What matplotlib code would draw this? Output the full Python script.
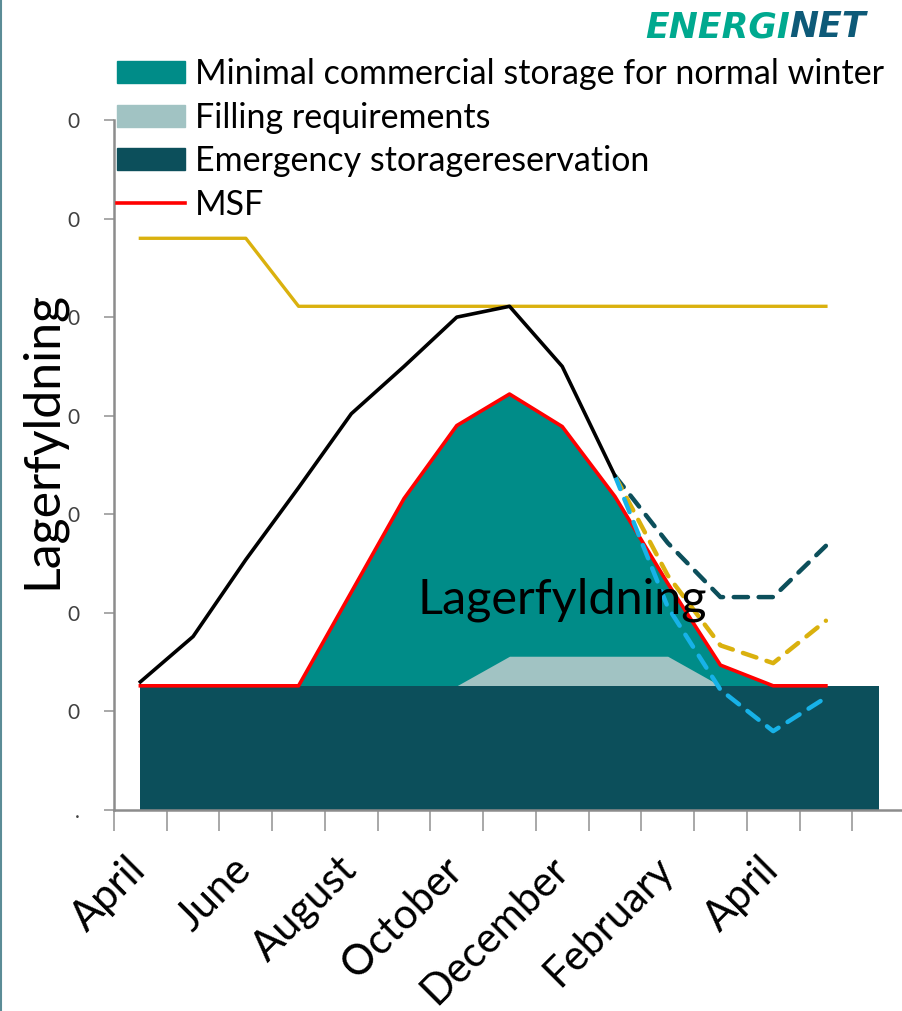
import numpy as np
import matplotlib
matplotlib.use("Agg")
import matplotlib.pyplot as plt
import matplotlib.transforms as mtransforms
from matplotlib.patches import Patch
from matplotlib.lines import Line2D

# month categories (April year 1 -> May year 2, plus one extra slot for the reserve area)
months = ["April", "May", "June", "July", "August", "September", "October",
          "November", "December", "January", "February", "March", "April", "May", ""]
month_labels = ["April", "June", "August", "October", "December", "February", "April"]
y_tick_labels = [".", "0", "0", "0", "0", "0", "0", "0"]

# values (y axis in arbitrary units, 10 per gridstep)
emergency = [12.6] * 15
filling = [0, 0, 0, 0, 0, 0, 0, 3.0, 3.0, 3.0, 3.0, 0, 0, 0, 0]
msf = [12.6, 12.6, 12.6, 12.6, 22.1, 31.6, 39.0, 42.2, 38.9, 31.8, 23.0, 14.7, 12.6, 12.6]
actual = [13.0, 17.6, 25.4, 32.7, 40.2, 45.0, 50.0, 51.1, 45.0, 33.9]
capacity = [58.0, 58.0, 58.0, 51.1, 51.1, 51.1, 51.1, 51.1, 51.1, 51.1, 51.1, 51.1, 51.1, 51.1]
# scenario forecasts from January
scen_high = [33.9, 27.1, 21.6, 21.6, 26.8]
scen_mid = [33.9, 23.8, 16.7, 14.9, 19.2]
scen_low = [33.9, 20.6, 12.2, 8.0, 11.4]

c_teal = "#008C88"
c_light = "#A1C3C3"
c_dark = "#0C4F5B"
c_gold = "#DAB10E"
c_blue = "#17B2E8"

plt.rcParams['font.family'] = ['Lato', 'DejaVu Sans']

fig = plt.figure(figsize=(9.03, 10.11), dpi=100)
ax = fig.add_axes([114 / 903, 1 - 810 / 1011, 791 / 903, 690 / 1011])

x_all = np.arange(len(emergency))
x_msf = np.arange(len(msf))
base = np.array(emergency[:len(msf)])

# areas
ax.fill_between(x_all, 0, emergency, color=c_dark, lw=0, zorder=2)
ax.fill_between(x_msf, base, msf, color=c_teal, lw=0, zorder=1)
ax.fill_between(x_all, emergency, np.array(emergency) + np.array(filling),
                color=c_light, lw=0, zorder=1.5)

# lines
ax.plot(x_msf, capacity, color=c_gold, lw=2.4, zorder=3)
ax.plot(x_msf, msf, color="red", lw=2.6, zorder=4)
ax.plot(np.arange(len(actual)), actual, color="black", lw=2.6, zorder=5)
xs = np.arange(9, 14)
dash = dict(lw=3.2, ls=(0, (3.2, 2.4)), dash_capstyle="round", zorder=4)
ax.plot(xs, scen_high, color=c_dark, **dash)
ax.plot(xs, scen_mid, color=c_gold, **dash)
ax.plot(xs, scen_low, color=c_blue, **dash)

ax.text(8.0, 21.3, "Lagerfyldning", fontsize=35, ha="center", va="center", zorder=6)

# axes
ax.set_xlim(-0.5, 14.5)
ax.set_ylim(0, 70)
ax.set_yticks(np.arange(0, 71, 10))
ax.set_yticklabels(y_tick_labels, fontsize=15, color="#404040")
ax.set_xticks(np.arange(-0.5, 14.5, 1))
ax.set_xticklabels([])
ax.tick_params(axis="x", length=15, width=1.2, color="#999999")
ax.tick_params(axis="y", length=7, width=1.2, color="#999999", pad=18)
for s in ["top", "right"]:
    ax.spines[s].set_visible(False)
for s in ["left", "bottom"]:
    ax.spines[s].set_color("#8C8C8C")
    ax.spines[s].set_linewidth(1.8)

# rotated month labels, every second month
lab_trans = ax.get_xaxis_transform() + mtransforms.ScaledTranslation(8 / 100, -62 / 100, fig.dpi_scale_trans)
for i, lab in enumerate(month_labels):
    ax.text(2 * i, 0, lab, transform=lab_trans, rotation=45, ha="right", va="baseline",
            rotation_mode="anchor", fontsize=30, clip_on=False)

fig.text(42 / 903, 1 - 440 / 1011, "Lagerfyldning", fontsize=36, rotation=90,
         ha="center", va="center")

# legend
handles = [Patch(color=c_teal), Patch(color=c_light), Patch(color=c_dark),
           Line2D([], [], color="red", lw=2.6)]
names = ["Minimal commercial storage for normal winter", "Filling requirements",
         "Emergency storagereservation", "MSF"]
fig.legend(handles, names, loc="upper left", bbox_to_anchor=(117 / 903, 1 - 58 / 1011),
           frameon=False, fontsize=24.5, handlelength=2.0, handleheight=0.62,
           handletextpad=0.3, labelspacing=0.34, borderaxespad=0, borderpad=0)

# logo
fig.canvas.draw()
t1 = fig.text(645 / 903, 1 - 27 / 1011, "ENERGI", color="#00A98F", fontsize=25,
              fontweight="bold", style="italic", va="center", ha="left",
              family="DejaVu Sans")
bb = t1.get_window_extent(fig.canvas.get_renderer())
fig.text(bb.x1 / 903, 1 - 27 / 1011, "NET", color="#0E5A78", fontsize=25,
         fontweight="bold", style="italic", va="center", ha="left",
         family="DejaVu Sans")

# left border line
fig.add_artist(Line2D([1.5 / 903, 1.5 / 903], [0, 1], color="#5B8C96", lw=1.5))

fig.savefig("out.png", dpi=100)
